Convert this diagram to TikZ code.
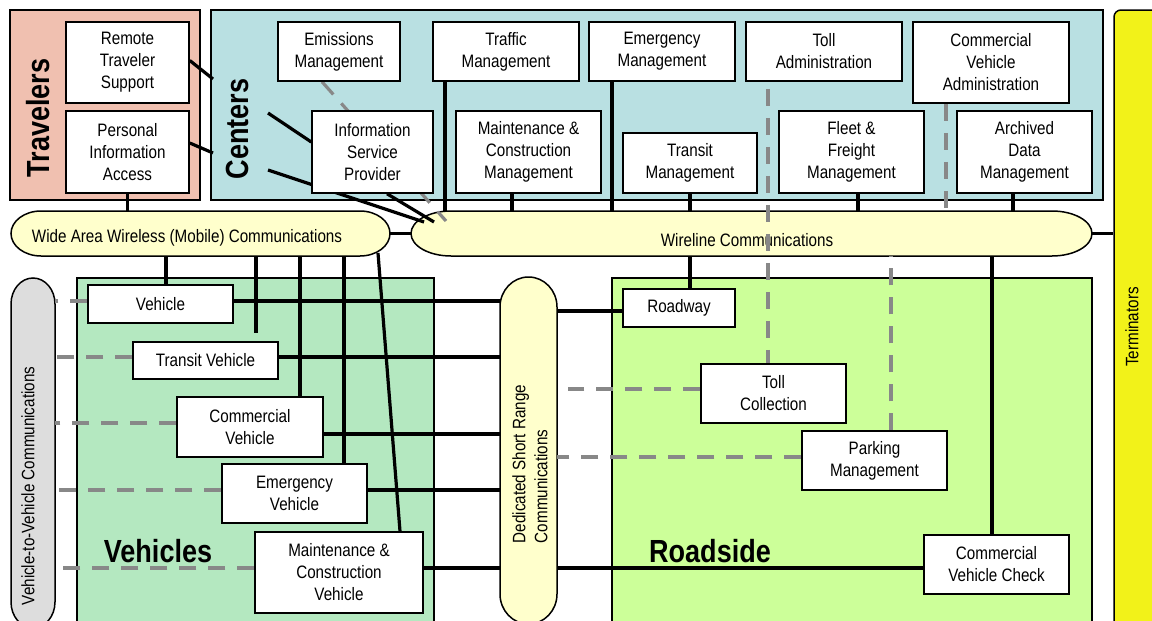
\documentclass[tikz,border=0pt]{standalone}
\usepackage{fontspec}
\setmainfont{Liberation Sans}[FakeStretch=0.845]
\pgfdeclarelayer{bg}
\pgfdeclarelayer{mid}
\pgfsetlayers{bg,mid,main}
\definecolor{travc}{RGB}{240,192,176}
\definecolor{centc}{RGB}{185,224,226}
\definecolor{vehc}{RGB}{180,232,192}
\definecolor{roadc}{RGB}{204,255,153}
\definecolor{termc}{RGB}{242,242,25}
\definecolor{ovalc}{RGB}{255,255,204}
\definecolor{v2vc}{RGB}{221,221,221}
\definecolor{dashgray}{RGB}{136,136,136}
\tikzset{
  unit/.style={draw=black, line width=1.5pt, fill=white, align=center, inner sep=0pt, font=\fontsize{18}{22}\selectfont},
  region/.style={draw=black, line width=1.5pt, inner sep=0pt},
  conn/.style={line width=3.2pt, draw=black},
  dconn/.style={line width=3.2pt, draw=dashgray, dash pattern=on 17pt off 12pt},
  biglabel/.style={font=\fontsize{32}{36}\selectfont\bfseries, inner sep=0pt},
  txt/.style={font=\fontsize{18}{22}\selectfont, inner sep=0pt, align=center},
  ovalline/.style={draw=black, line width=1.5pt},
}
% name x1 y1 x2 y2 text
\newcommand{\ubox}[6]{\node[unit, minimum width={#4pt-#2pt}, minimum height={#5pt-#3pt}] (#1) at ({(#2+#4)/2},{(#3+#5)/2}) {#6};}
% name x1 y1 x2 y2 options
\newcommand{\rbox}[6]{\node[region, #6, minimum width={#4pt-#2pt}, minimum height={#5pt-#3pt}] (#1) at ({(#2+#4)/2},{(#3+#5)/2}) {};}
% name x1 y1 x2 y2 rx ry
\newcommand{\myhoval}[7]{%
  \draw[ovalline, fill=ovalc] (#2+#6,#3) -- (#4-#6,#3) arc[start angle=90, end angle=-90, x radius=#6pt, y radius=#7pt] -- (#2+#6,#5) arc[start angle=270, end angle=90, x radius=#6pt, y radius=#7pt] -- cycle;
  \node[inner sep=0pt, minimum width={#4pt-#2pt}, minimum height={#5pt-#3pt}] (#1) at ({(#2+#4)/2},{(#3+#5)/2}) {};}
% name x1 y1 x2 y2 rx ry fill
\newcommand{\myvoval}[8]{%
  \draw[ovalline, fill=#8] (#2,#3+#7) arc[start angle=180, end angle=0, x radius=#6pt, y radius=#7pt] -- (#4,#5-#7) arc[start angle=0, end angle=-180, x radius=#6pt, y radius=#7pt] -- cycle;
  \node[inner sep=0pt, minimum width={#4pt-#2pt}, minimum height={#5pt-#3pt}] (#1) at ({(#2+#4)/2},{(#3+#5)/2}) {};}
\begin{document}
\begin{tikzpicture}[x=1pt,y=-1pt]
\useasboundingbox (0,0) rectangle (1152,621);
\begin{pgfonlayer}{bg}
\rbox{trav}{10}{10}{200}{200}{fill=travc}
\rbox{cent}{211}{10}{1103}{200}{fill=centc}
\rbox{vehs}{77}{278}{434}{640}{fill=vehc}
\rbox{road}{612}{278}{1092}{640}{fill=roadc}
\node[region, fill=termc, rounded corners=7pt, minimum width=70pt, minimum height=620pt] (term) at (1149,320) {};
\myhoval{waw}{11}{211}{390}{256}{30}{22.5}
\myhoval{wl}{411}{211}{1092}{256}{40}{22.5}
\myvoval{v2v}{11}{278}{55}{628}{22}{26}{v2vc}
\myvoval{dsrc}{500}{277}{557}{624}{28.5}{30}{ovalc}
\node[txt] (wawt) at (187,238) {Wide Area Wireless (Mobile) Communications};
\node[txt] (wlt) at (747,240) {Wireline Communications};
\node[txt, rotate=90] (v2vt) at (28,486) {Vehicle-to-Vehicle Communications};
\node[txt, rotate=90, align=left] (dsrct) at (530,464) {Dedicated Short Range\\Communications};
\node[txt, rotate=90] (termt) at (1132,327) {Terminators};
\node[biglabel, rotate=90] (travt) at (38,118) {Travelers};
\node[biglabel, rotate=90] (centt) at (237,129) {Centers};
\node[biglabel] (vehl) at (158,551) {Vehicles};
\node[biglabel] (roadl) at (710,551) {Roadside};
\end{pgfonlayer}
% units
\ubox{rts}{66}{22}{189}{103}{Remote\\Traveler\\Support}
\ubox{pia}{66}{111}{189}{193}{Personal\\Information\\Access}
\ubox{em}{278}{22}{400}{81}{Emissions\\Management}
\ubox{isp}{312}{111}{433}{193}{Information\\Service\\Provider}
\ubox{tm}{433}{22}{579}{81}{Traffic\\Management}
\ubox{emm}{589}{22}{735}{81}{Emergency\\Management}
\ubox{ta}{746}{22}{902}{81}{Toll\\Administration}
\ubox{cva}{913}{22}{1069}{103}{Commercial\\Vehicle\\Administration}
\ubox{mcm}{456}{111}{601}{193}{Maintenance \&\\Construction\\Management}
\ubox{trm}{623}{133}{757}{193}{Transit\\Management}
\ubox{ffm}{779}{111}{924}{193}{Fleet \&\\Freight\\Management}
\ubox{adm}{957}{111}{1092}{193}{Archived\\Data\\Management}
\ubox{veh}{88}{285}{233}{323}{Vehicle}
\ubox{tv}{133}{342}{278}{379}{Transit Vehicle}
\ubox{cv}{177}{397}{323}{457}{Commercial\\Vehicle}
\ubox{ev}{222}{464}{367}{523}{Emergency\\Vehicle}
\ubox{mcv}{255}{532}{423}{613}{Maintenance \&\\Construction\\Vehicle}
\ubox{rw}{623}{289}{735}{327}{Roadway}
\ubox{tc}{701}{364}{846}{423}{Toll\\Collection}
\ubox{pm}{802}{431}{947}{490}{Parking\\Management}
\ubox{cvc}{924}{535}{1069}{594}{Commercial\\Vehicle Check}
\begin{pgfonlayer}{mid}
% travelers and centers stubs
\coordinate (c1) at (213,79);
\coordinate (c2) at (213,153);
\coordinate (c3) at (268,113);
\coordinate (c4) at (268,170);
\coordinate (c5) at (424,222);
\coordinate (c6) at (434,222);
\coordinate (c7) at (446,221);
\coordinate (c8) at (256,333);
\coordinate (c9) at (378,253);
\coordinate (c10) at (568,389);
\draw[conn] ([yshift=2pt]rts.east) -- (c1);
\draw[conn] ([yshift=9pt]pia.east) -- (c2);
\draw[conn] (pia.south) -- (pia.south |- waw.north);
\draw[conn] (c3) -- ([yshift=10pt]isp.west);
\draw[conn] (c4) -- (c5);
\draw[conn] ([xshift=14.5pt]isp.south) -- (c6);
\draw[dconn] ([xshift=-17pt]em.south) -- (c7);
% centers to wireline
\draw[conn] ([xshift=-61pt]tm.south) -- ([xshift=-61pt]tm.south |- wl.north);
\draw[conn] ([xshift=-50pt]emm.south) -- ([xshift=-50pt]emm.south |- wl.north);
\draw[conn] ([xshift=-16.5pt]mcm.south) -- ([xshift=-16.5pt]mcm.south |- wl.north);
\draw[conn] (trm.south) -- (trm.south |- wl.north);
\draw[conn] ([xshift=6.5pt]ffm.south) -- ([xshift=6.5pt]ffm.south |- wl.north);
\draw[conn] ([xshift=-11.5pt]adm.south) -- ([xshift=-11.5pt]adm.south |- wl.north);
\draw[dconn] ([xshift=-45pt]cva.south) -- ([xshift=-45pt]cva.south |- wl.north);
\draw[dconn, dash phase=22pt] ([xshift=-56pt]ta.south) -- ([xshift=-56pt]ta.south |- tc.north);
% wireline to roadside
\draw[conn] ([xshift=11pt]rw.north) -- ([xshift=11pt]rw.north |- wl.south);
\draw[dconn] ([xshift=16.5pt]pm.north) -- ([xshift=16.5pt]pm.north |- wl.south);
\draw[conn] ([xshift=-4.5pt]cvc.north) -- ([xshift=-4.5pt]cvc.north |- wl.south);
% networks
\draw[conn] (waw.east) -- (wl.west);
\draw[conn] (wl.east) -- (wl.east -| term.west);
% wide area wireless to vehicles
\draw[conn] ([xshift=5.5pt]veh.north) -- ([xshift=5.5pt]veh.north |- waw.south);
\draw[conn] (c8 |- waw.south) -- (c8);
\draw[conn] ([xshift=50pt]cv.north) -- ([xshift=50pt]cv.north |- waw.south);
\draw[conn] ([xshift=49.5pt]ev.north) -- ([xshift=49.5pt]ev.north |- waw.south);
\draw[conn] (c9) -- ([xshift=61pt]mcv.north);
% vehicles to DSRC
\draw[conn] ([yshift=3pt]veh.east) -- ([yshift=3pt]veh.east -| dsrc.west);
\draw[conn] ([yshift=3.5pt]tv.east) -- ([yshift=3.5pt]tv.east -| dsrc.west);
\draw[conn] ([yshift=-7pt]cv.east) -- ([yshift=-7pt]cv.east -| dsrc.west);
\draw[conn] ([yshift=3.5pt]ev.east) -- ([yshift=3.5pt]ev.east -| dsrc.west);
\draw[conn] ([yshift=4.5pt]mcv.east) -- ([yshift=4.5pt]mcv.east -| dsrc.west);
% DSRC to roadside
\draw[conn] ([yshift=-3pt]rw.west) -- ([yshift=-3pt]rw.west -| dsrc.east);
\draw[conn] ([yshift=-3.5pt]cvc.west) -- ([yshift=-3.5pt]cvc.west -| dsrc.east);
\draw[dconn] ([yshift=4.5pt]tc.west) -- (c10);
\draw[dconn] ([yshift=3.5pt]pm.west) -- ([yshift=3.5pt]pm.west -| dsrc.east);
% vehicle to vehicle
\draw[dconn] ([yshift=3pt]veh.west) -- ([yshift=3pt]veh.west -| v2v.east);
\draw[dconn] ([yshift=3.5pt]tv.west) -- ([yshift=3.5pt]tv.west -| v2v.east);
\draw[dconn] ([yshift=4pt]cv.west) -- ([yshift=4pt]cv.west -| v2v.east);
\draw[dconn] ([yshift=3.5pt]ev.west) -- ([yshift=3.5pt]ev.west -| v2v.east);
\draw[dconn] ([yshift=4.5pt]mcv.west) -- ([yshift=4.5pt]mcv.west -| v2v.east);
\end{pgfonlayer}
\end{tikzpicture}
\end{document}
